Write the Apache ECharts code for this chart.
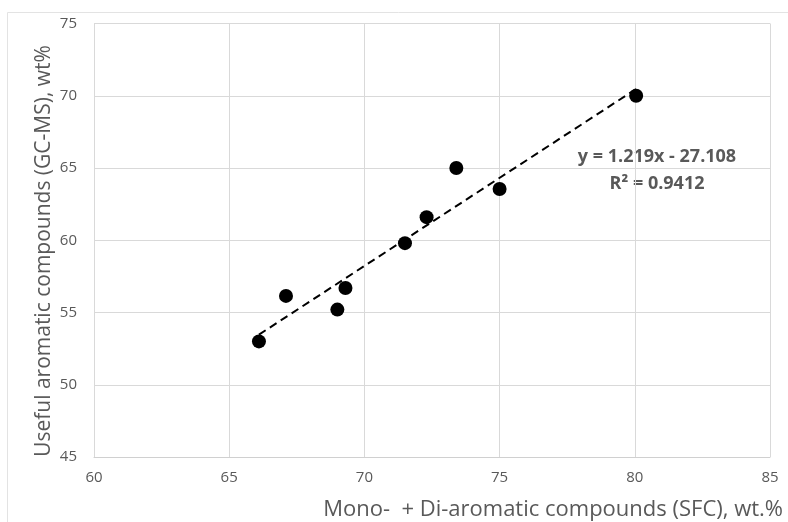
<!DOCTYPE html>
<html>
<head>
<meta charset="utf-8">
<script src="https://cdn.jsdelivr.net/npm/echarts@6/dist/echarts.min.js"></script>
<style>
  html, body { margin: 0; padding: 0; background: #fff; }
  #res { width: 788px; height: 522px; }
</style>
</head>
<body>
<div id="res"></div>
<script>
// SFC mono+di aromatics (x) vs GC-MS useful aromatics (y)
const sfcValues = [66.1, 67.1, 69.0, 69.3, 71.5, 72.3, 73.4, 75.0, 80.05];
const gcmsValues = [53.0, 56.15, 55.2, 56.7, 59.8, 61.6, 65.0, 63.55, 70.0];
// linear trend from the chart label
const slope = 1.219;
const intercept = -27.108;
const trendX = [66.1, 80.05];
const xTicks = [60, 65, 70, 75, 80, 85];
const yTicks = [45, 50, 55, 60, 65, 70, 75];

let chartDom = document.getElementById('res');
let myChart = echarts.init(chartDom);
let option;

const labelFont = '"Open Sans", "Noto Sans", sans-serif';

option = {
  animation: false,
  grid: {
    left: 94,
    right: 18,
    top: 23.5,
    bottom: 65
  },
  graphic: [
    {
      type: 'rect',
      shape: { x: 7.5, y: 12.5, width: 900, height: 600 },
      style: { fill: 'none', stroke: '#e3e3e3', lineWidth: 1 },
      silent: true
    },
    {
      type: 'text',
      x: 44,
      y: 251,
      rotation: Math.PI / 2,
      style: {
        text: 'Useful aromatic compounds (GC-MS), wt%',
        fill: '#595959',
        font: '21px ' + labelFont,
        align: 'center',
        verticalAlign: 'middle'
      }
    },
    {
      type: 'text',
      x: 783,
      y: 510,
      style: {
        text: 'Mono-  + Di-aromatic compounds (SFC), wt.%',
        fill: '#595959',
        font: '22px ' + labelFont,
        align: 'right',
        verticalAlign: 'middle'
      }
    },
    {
      type: 'text',
      x: 657,
      y: 157,
      style: {
        text: 'y = 1.219x - 27.108',
        fill: '#595959',
        font: 'bold 18px ' + labelFont,
        align: 'center',
        verticalAlign: 'middle'
      }
    },
    {
      type: 'text',
      x: 657,
      y: 184,
      style: {
        text: 'R² = 0.9412',
        fill: '#595959',
        font: 'bold 18px ' + labelFont,
        align: 'center',
        verticalAlign: 'middle'
      }
    }
  ],
  xAxis: {
    type: 'value',
    min: xTicks[0],
    max: xTicks[xTicks.length - 1],
    interval: 5,
    axisLine: { show: true, lineStyle: { color: '#d0d0d0', width: 1 } },
    axisTick: { show: false },
    splitLine: { show: true, lineStyle: { color: '#d9d9d9', width: 1 } },
    axisLabel: { color: '#595959', fontSize: 15, fontFamily: labelFont, margin: 13 }
  },
  yAxis: {
    type: 'value',
    min: yTicks[0],
    max: yTicks[yTicks.length - 1],
    interval: 5,
    axisLine: { show: true, lineStyle: { color: '#d9d9d9', width: 1 } },
    axisTick: { show: false },
    splitLine: { show: true, lineStyle: { color: '#d9d9d9', width: 1 } },
    axisLabel: { color: '#595959', fontSize: 15, fontFamily: labelFont, margin: 17 }
  },
  series: [
    {
      type: 'line',
      data: trendX.map(x => [x, slope * x + intercept]),
      showSymbol: false,
      symbol: 'none',
      lineStyle: { color: '#000', width: 2, type: [8, 5] },
      z: 2
    },
    {
      type: 'scatter',
      data: sfcValues.map((x, i) => [x, gcmsValues[i]]),
      symbol: 'circle',
      symbolSize: 14,
      itemStyle: { color: '#000', opacity: 1 },
      z: 3
    }
  ]
};

option && myChart.setOption(option);
</script>
</body>
</html>
